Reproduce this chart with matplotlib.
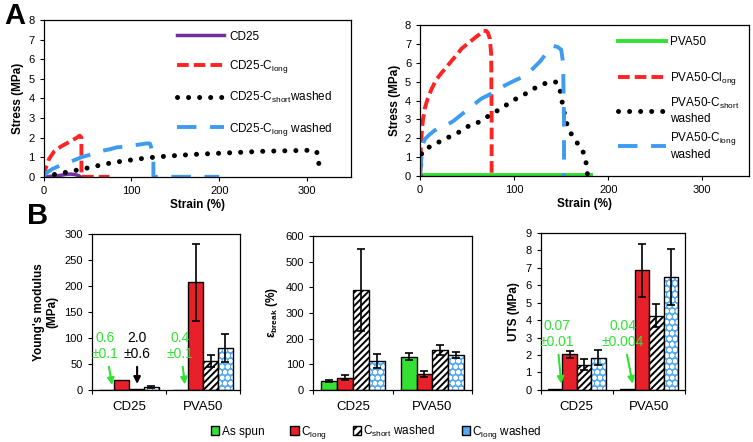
import numpy as np
import matplotlib
matplotlib.use("Agg")
import matplotlib.pyplot as plt
from matplotlib.patches import Patch

plt.rcParams['font.family'] = ['Liberation Sans', 'DejaVu Sans']
plt.rcParams['mathtext.fontset'] = 'custom'
plt.rcParams['mathtext.rm'] = 'Liberation Sans'
plt.rcParams['mathtext.bf'] = 'Liberation Sans:bold'
plt.rcParams['hatch.linewidth'] = 1.4

# ---- panel A data (stress-strain curves) ----
cd25_strain = [0, 10, 20, 25, 30, 35, 40, 42]
cd25_stress = [0, 0.03, 0.08, 0.12, 0.14, 0.12, 0.06, 0]

cd25_clong_strain = [0, 2, 6, 12, 20, 26, 32, 38, 41, 43, 43, 60, 75]
cd25_clong_stress = [0, 0.4, 0.9, 1.3, 1.55, 1.7, 1.85, 2.0, 2.1, 2.0, 0, 0, 0]

cd25_cshort_strain = [0, 5, 10, 20, 30, 40, 50, 60, 70, 80, 90, 100, 110, 120, 130, 140, 150, 160, 170,
                      180, 190, 200, 210, 220, 230, 240, 250, 260, 270, 280, 290, 300, 308, 311, 313, 315]
cd25_cshort_stress = [0, 0.05, 0.1, 0.18, 0.27, 0.36, 0.45, 0.55, 0.65, 0.73, 0.8, 0.86, 0.92, 0.97, 1.02,
                      1.05, 1.08, 1.11, 1.14, 1.16, 1.18, 1.2, 1.22, 1.24, 1.26, 1.28, 1.3, 1.31, 1.32, 1.33,
                      1.34, 1.35, 1.33, 1.3, 0.8, 0.3]

cd25_clongw_strain = [0, 3, 10, 20, 26, 35, 43, 55, 64, 75, 83, 95, 101, 110, 117, 121, 124, 125, 125, 200]
cd25_clongw_stress = [0, 0.2, 0.4, 0.6, 0.7, 0.85, 1.0, 1.15, 1.3, 1.4, 1.5, 1.55, 1.6, 1.65, 1.7, 1.7,
                      1.3, 1.0, 0, 0]

pva50_strain = [0, 182]
pva50_stress = [0.05, 0.05]

pva50_clong_strain = [0, 0.5, 1, 2, 3, 5, 8, 12, 16, 20, 25, 30, 35, 40, 44, 50, 55, 60, 64, 67, 70, 72,
                      74, 75.5, 76, 76]
pva50_clong_stress = [0, 1.2, 1.8, 2.5, 3.0, 3.6, 4.1, 4.6, 5.0, 5.3, 5.6, 5.9, 6.2, 6.5, 6.75, 7.0, 7.2,
                      7.4, 7.55, 7.7, 7.7, 7.6, 7.3, 6.5, 3, 0]

pva50_clongw_strain = [0, 1, 3, 5, 10, 15, 20, 28, 35, 45, 55, 65, 75, 81, 90, 100, 109, 120, 128, 134,
                       141, 146, 150, 152, 153, 153]
pva50_clongw_stress = [0, 0.8, 1.7, 1.95, 2.2, 2.4, 2.55, 2.7, 2.9, 3.3, 3.7, 4.1, 4.35, 4.55, 4.8, 5.05,
                       5.25, 5.7, 6.1, 6.5, 6.9, 6.85, 6.7, 6.0, 3, 0]

pva50_cshort_strain = [0, 1, 2, 3, 5, 8, 10, 15, 20, 25, 30, 39, 45, 50, 55, 60, 64, 70, 75, 80, 85, 90,
                       95, 100, 105, 110, 115, 120, 125, 130, 135, 140, 143, 146, 148.5, 150, 152, 154,
                       157, 161, 166, 171, 175, 177, 178]
pva50_cshort_stress = [0, 1.0, 1.3, 1.3, 1.35, 1.45, 1.55, 1.65, 1.8, 1.95, 2.05, 2.25, 2.45, 2.6, 2.75,
                       2.8, 2.9, 3.1, 3.25, 3.4, 3.55, 3.7, 3.9, 4.05, 4.15, 4.3, 4.45, 4.6, 4.75, 4.85,
                       4.95, 5.0, 5.0, 4.95, 4.65, 4.15, 3.7, 3.15, 2.6, 2.2, 1.8, 1.55, 1.06, 0.55, 0.05]

# ---- panel B data (bar charts) ----
groups = ['CD25', 'PVA50']
series = ['As spun', 'C$_\\mathregular{long}$', 'C$_\\mathregular{short}$ washed', 'C$_\\mathregular{long}$ washed']

modulus = [[0.6, 0.4], [18, 207], [2.0, 55], [6, 80]]
modulus_err = [[0.1, 0.1], [1, 74], [0.6, 12], [1.5, 27]]

strain_break = [[35, 130], [47, 62], [390, 155], [112, 137]]
strain_break_err = [[3, 15], [10, 10], [160, 20], [28, 12]]

uts = [[0.07, 0.04], [2.05, 6.85], [1.45, 4.25], [1.85, 6.45]]
uts_err = [[0.01, 0.004], [0.2, 1.5], [0.3, 0.65], [0.42, 1.6]]

purple = '#7030a0'
red = '#ff2424'
blue = '#3d9bf0'
green = '#33e033'
bar_red = '#e8202a'
bar_blue = '#55aaf5'

fig = plt.figure(figsize=(7.53, 4.42), dpi=100)

dot = (0, (0.01, 2.2))
red_dash = (0, (3, 1.3))
blue_dash = (0, (5, 3.5))

# A left
axA1 = fig.add_axes([0.058, 0.600, 0.408, 0.355])
axA1.plot(cd25_strain, cd25_stress, color=purple, lw=2.5, label='CD25')
axA1.plot(cd25_clong_strain, cd25_clong_stress, color=red, lw=2.8, ls=red_dash, label='CD25-C$_\\mathregular{long}$')
axA1.plot(cd25_cshort_strain, cd25_cshort_stress, color='black', lw=3.6, ls=dot, dash_capstyle='round',
          label='CD25-C$_\\mathregular{short}$washed')
axA1.plot(cd25_clongw_strain, cd25_clongw_stress, color=blue, lw=2.8, ls=blue_dash,
          label='CD25-C$_\\mathregular{long}$ washed')
axA1.set_xlim(0, 350)
axA1.set_ylim(0, 8)
axA1.set_xticks([0, 100, 200, 300])
axA1.set_yticks(range(0, 9))
axA1.set_xlabel('Strain (%)', fontsize=8.5, fontweight='bold', labelpad=2)
axA1.set_ylabel('Stress (MPa)', fontsize=8.5, fontweight='bold', labelpad=3)
axA1.legend(loc='upper left', bbox_to_anchor=(0.40, 1.0), frameon=False, fontsize=8.5,
            handlelength=4, labelspacing=1.3, handletextpad=0.4)

# A right
axA2 = fig.add_axes([0.558, 0.602, 0.437, 0.341])
l1, = axA2.plot(pva50_strain, pva50_stress, color=green, lw=2.8, label='PVA50')
l2, = axA2.plot(pva50_clong_strain, pva50_clong_stress, color=red, lw=2.8, ls=red_dash,
                label='PVA50-Cl$_\\mathregular{ong}$')
l3, = axA2.plot(pva50_cshort_strain, pva50_cshort_stress, color='black', lw=3.6, ls=dot, dash_capstyle='round',
                label='PVA50-C$_\\mathregular{short}$\nwashed')
l4, = axA2.plot(pva50_clongw_strain, pva50_clongw_stress, color=blue, lw=2.8, ls=blue_dash,
                label='PVA50-C$_\\mathregular{long}$\nwashed')
axA2.set_xlim(0, 350)
axA2.set_ylim(0, 8)
axA2.set_xticks([0, 100, 200, 300])
axA2.set_yticks(range(0, 9))
axA2.set_xlabel('Strain (%)', fontsize=8.5, fontweight='bold', labelpad=2)
axA2.set_ylabel('Stress (MPa)', fontsize=8.5, fontweight='bold', labelpad=3)
leg1 = axA2.legend([l1, l2], [l1.get_label(), l2.get_label()], loc='upper left',
                   bbox_to_anchor=(0.57, 1.0), frameon=False, fontsize=8.5,
                   handlelength=4, labelspacing=1.9, handletextpad=0.4)
axA2.add_artist(leg1)
axA2.legend([l3, l4], [l3.get_label(), l4.get_label()], loc='upper left',
            bbox_to_anchor=(0.57, 0.60), frameon=False, fontsize=8.5,
            handlelength=4, labelspacing=0.45, handletextpad=0.4)

for ax in (axA1, axA2):
    ax.tick_params(labelsize=8, length=3, width=0.8)
    for s in ax.spines.values():
        s.set_linewidth(0.9)


def bar_panel(ax, vals, errs, ymax, ystep, ylabel):
    x = np.arange(len(groups))
    w = 0.2
    offs = [-0.3, -0.1, 0.1, 0.3]
    for i in range(4):
        pos = x + offs[i]
        if i == 0:
            ax.bar(pos, vals[i], w, color=green, edgecolor='black', lw=1, zorder=2)
        elif i == 1:
            ax.bar(pos, vals[i], w, color=bar_red, edgecolor='black', lw=1, zorder=2)
        elif i == 2:
            ax.bar(pos, vals[i], w, color='white', edgecolor='black', lw=1, hatch='/////', zorder=2)
        else:
            ax.bar(pos, vals[i], w, color=bar_blue, edgecolor='white', lw=0, hatch='ooo', zorder=2)
            ax.bar(pos, vals[i], w, fill=False, edgecolor='black', lw=1, zorder=3)
        # only draw error bars that are visible at this scale
        keep = [j for j in range(len(pos)) if errs[i][j] > ymax * 0.004]
        if keep:
            ax.errorbar(pos[keep], np.array(vals[i])[keep], yerr=np.array(errs[i])[keep], fmt='none',
                        ecolor='black', elinewidth=1.2, capsize=3, capthick=1.2, zorder=4)
    ax.set_xlim(-0.5, 1.5)
    ax.set_ylim(0, ymax)
    ax.set_yticks(np.arange(0, ymax + ystep / 2, ystep))
    ax.set_xticks([-0.5, 0.5, 1.5])
    ax.set_xticklabels([])
    ax.set_xticks([0, 1], minor=True)
    ax.set_xticklabels(groups, minor=True, fontsize=9.5)
    ax.tick_params(axis='x', which='minor', length=0, pad=8)
    ax.tick_params(axis='both', which='major', labelsize=8, length=3, width=0.8)
    ax.set_ylabel(ylabel, fontsize=8.5, fontweight='bold')
    for s in ax.spines.values():
        s.set_linewidth(0.9)


axB1 = fig.add_axes([0.122, 0.118, 0.197, 0.353])
bar_panel(axB1, modulus, modulus_err, 300, 50, "Young's modulus\n(MPa)")
axB2 = fig.add_axes([0.416, 0.118, 0.211, 0.348])
bar_panel(axB2, strain_break, strain_break_err, 600, 100, 'ε$_\\mathbf{break}$ (%)')
axB3 = fig.add_axes([0.718, 0.118, 0.192, 0.355])
bar_panel(axB3, uts, uts_err, 9, 1, 'UTS (MPa)')

arrow_g = dict(arrowstyle='-|>', color=green, lw=1.5, mutation_scale=10)
arrow_k = dict(arrowstyle='-|>', color='black', lw=1.5, mutation_scale=10)
axB1.annotate('0.6\n±0.1', xy=(-0.22, 4), xytext=(-0.32, 84), color=green, fontsize=10,
              ha='center', va='center', arrowprops=arrow_g)
axB1.annotate('2.0\n±0.6', xy=(0.11, 6), xytext=(0.11, 84), color='black', fontsize=10,
              ha='center', va='center', arrowprops=arrow_k)
axB1.annotate('0.4\n±0.1', xy=(0.76, 5), xytext=(0.69, 84), color=green, fontsize=10,
              ha='center', va='center', arrowprops=arrow_g)
axB3.annotate('0.07\n±0.01', xy=(-0.21, 0.19), xytext=(-0.28, 3.2), color=green, fontsize=10,
              ha='center', va='center', arrowprops=arrow_g)
axB3.annotate('0.04\n±0.004', xy=(0.78, 0.19), xytext=(0.64, 3.2), color=green, fontsize=10,
              ha='center', va='center', arrowprops=arrow_g)

handles = [Patch(facecolor=green, edgecolor='black'),
           Patch(facecolor=bar_red, edgecolor='black'),
           Patch(facecolor='white', edgecolor='black', hatch='////'),
           Patch(facecolor=bar_blue, edgecolor='black')]
fig.legend(handles, series, loc='center', bbox_to_anchor=(0.5, 0.022), ncol=4, frameon=False,
           fontsize=8.5, handlelength=0.7, handleheight=0.7, handletextpad=0.2, columnspacing=2.2)

fig.text(0.006, 0.995, 'A', fontsize=21, fontweight='bold', va='top')
fig.text(0.036, 0.543, 'B', fontsize=21, fontweight='bold', va='top')

fig.savefig('out.png', dpi=100)
